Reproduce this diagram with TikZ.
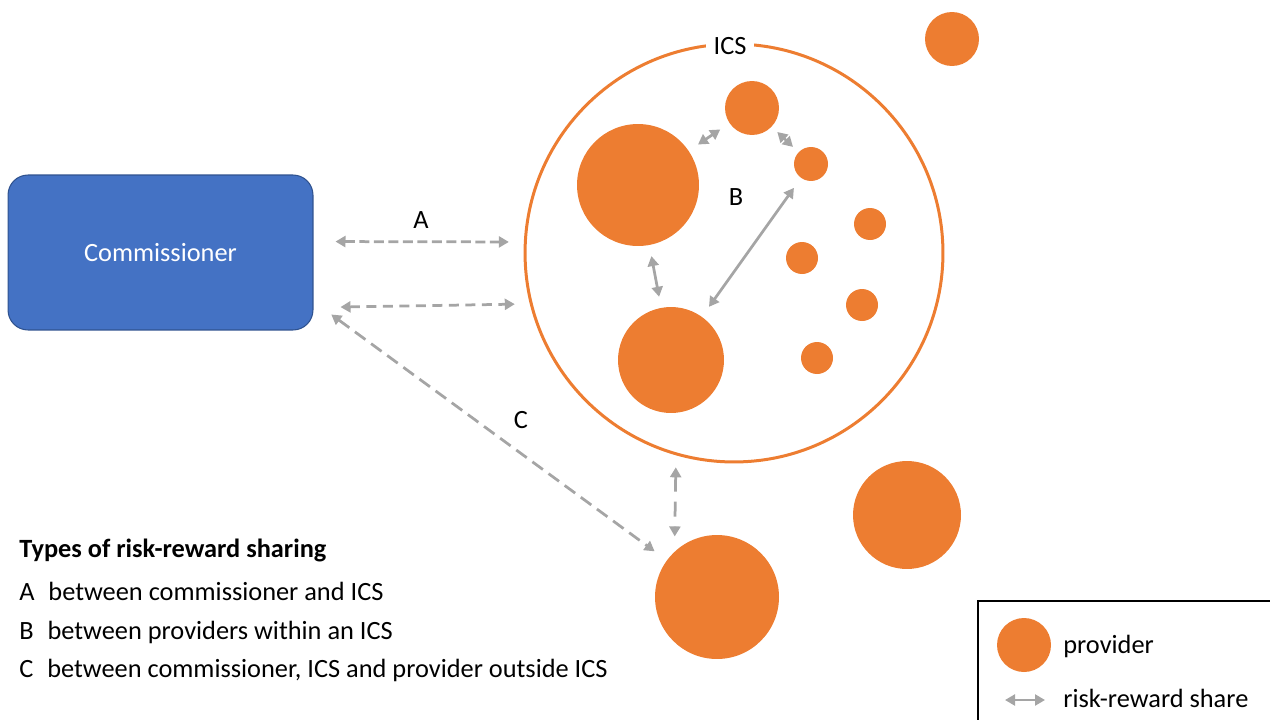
\documentclass[tikz,border=0pt]{standalone}
\usepackage{fontspec}
\setmainfont{Carlito}
\usetikzlibrary{arrows.meta}

\definecolor{icsorange}{HTML}{ED7D31}
\definecolor{commblue}{HTML}{4472C4}
\definecolor{commedge}{HTML}{2F528F}
\definecolor{sharegray}{HTML}{A5A5A5}

\begin{document}
\begin{tikzpicture}[x=0.02cm, y=-0.02cm,
    every node/.style={font=\fontsize{15}{18}\selectfont},
    provider/.style={circle, fill=icsorange, inner sep=0pt, minimum size=#1},
    share/.style={draw=sharegray, line width=0.055cm, <->,
      >={Triangle[length=0.2cm,width=0.22cm]}},
    sharedash/.style={share, dash pattern=on 0.2cm off 0.13cm},
    legtext/.style={anchor=west, inner sep=0pt}]
    \useasboundingbox (0,0) rectangle (1270,720);

    % Commissioner
    \node[draw=commedge, fill=commblue, text=white, line width=0.6pt,
      rounded corners=0.4cm, minimum width=6.1cm, minimum height=3.1cm]
      (comm) at (160.5,252.5) {Commissioner};

    % ICS boundary and its label
    \node[circle, draw=icsorange, line width=0.06cm, minimum size=8.36cm,
      inner sep=0pt] (ics) at (734,253) {};
    \node[fill=white, inner xsep=0.16cm, inner ysep=1pt] (icslabel) at (730,46) {ICS};

    % providers within the ICS
    \node[provider=2.44cm] (p1) at (638,185) {};
    \node[provider=2.12cm] (p2) at (671,360) {};
    \node[provider=1.08cm] (p3) at (752,108) {};
    \node[provider=0.68cm] (p4) at (811,164) {};
    \node[provider=0.64cm] (p5) at (870,224) {};
    \node[provider=0.64cm] (p6) at (802,258) {};
    \node[provider=0.64cm] (p7) at (862,305) {};
    \node[provider=0.64cm] (p8) at (817,358) {};

    % providers outside
    \node[provider=1.08cm] (q1) at (952,39) {};
    \node[provider=2.16cm] (q2) at (907,515) {};
    \node[provider=2.48cm] (q3) at (717,597) {};

    % A: commissioner <-> ICS
    \draw[sharedash, dash pattern=on 0.2cm off 0.09cm, shorten <=0.44cm, shorten >=0.3cm]
      ([yshift=0.22cm]comm.east) -- (ics.177);
    \draw[sharedash, shorten <=0.54cm, shorten >=0.3cm]
      ([yshift=-1.1cm]comm.east) -- (ics.194);
    \node (labA) at (421,220) {A};

    % B: between providers
    \draw[share, shorten <=0.22cm, shorten >=0.22cm] (p1) -- (p3);
    \draw[share, shorten <=0.15cm, shorten >=0.15cm] (p3) -- (p4);
    \draw[share, shorten <=0.22cm, shorten >=0.22cm] (p1) -- (p2);
    \draw[share, shorten <=0.24cm, shorten >=0.24cm] (p2) -- (p4);
    \node (labB) at (736,197) {B};

    % C: commissioner, ICS and outside provider
    \draw[sharedash, dash pattern=on 0.26cm off 0.14cm, shorten <=0.44cm, shorten >=0.3cm]
      ([yshift=-0.98cm]comm.east) -- (q3);
    \draw[sharedash, dash pattern=on 0.3cm off 0.2cm, shorten <=0.24cm, shorten >=0.3cm]
      (ics.254) -- (q3.133);
    \node (labC) at (521,420) {C};

    % key to the sharing types
    \node[legtext, font=\fontsize{15}{18}\selectfont\bfseries] (typeshead) at (19,550)
      {Types of risk-reward sharing};
    \node[legtext] (typeA) at (19,591) {A\hspace{0.3em} between commissioner and ICS};
    \node[legtext] (typeB) at (19,632) {B\hspace{0.3em} between providers within an ICS};
    \node[legtext] (typeC) at (19,670) {C\hspace{0.3em} between commissioner, ICS and provider outside ICS};

    % legend
    \draw[line width=0.03cm] (1270,601) -- (978,601) -- (978,720);
    \node[provider=1.08cm] (legprov) at (1024,645) {};
    \node[legtext] (legprovtext) at (1063,646) {provider};
    \coordinate (legl) at (1005,700);
    \coordinate (legr) at (1045,700);
    \draw[share, line width=0.045cm] (legl) -- (legr);
    \node[legtext] (legsharetext) at (1063,698) {risk-reward share};
\end{tikzpicture}
\end{document}
